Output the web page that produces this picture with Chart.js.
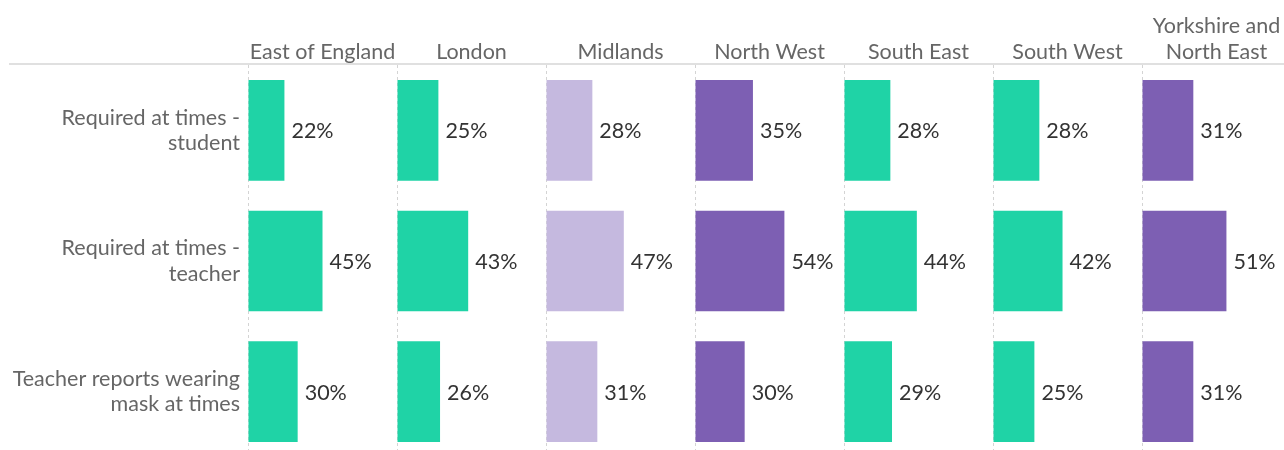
<!DOCTYPE html>
<html>
<head>
<meta charset="utf-8">
<script src="https://cdn.jsdelivr.net/npm/chart.js@4.4.1/dist/chart.umd.min.js"></script>
<style>
  html, body { margin: 0; padding: 0; background: #fff; overflow: hidden; }
  #wrap { width: 1291px; height: 457px; }
</style>
</head>
<body>
<div id="wrap"><canvas id="maskChart"></canvas></div>
<script>
// rows (y categories)
const categories = [
    ['Required at times -', 'student'],
    ['Required at times -', 'teacher'],
    ['Teacher reports wearing', 'mask at times']
];
// panel titles, first line empty so single-line titles sit at the bottom
const regions = [
    ['', 'East of England'],
    ['', 'London'],
    ['', 'Midlands'],
    ['', 'North West'],
    ['', 'South East'],
    ['', 'South West'],
    ['Yorkshire and', 'North East']
];
const eastOfEngland = [22, 45, 30];
const london = [25, 43, 26];
const midlands = [28, 47, 31];
const northWest = [35, 54, 30];
const southEast = [28, 44, 29];
const southWest = [28, 42, 25];
const yorkshireNorthEast = [31, 51, 31];
const regionValues = [eastOfEngland, london, midlands, northWest, southEast, southWest, yorkshireNorthEast];
const regionColours = ['#1fd3a6', '#1fd3a6', '#c5b9df', '#7d5fb3', '#1fd3a6', '#1fd3a6', '#7d5fb3'];

const FONT = 'Lato';
const FONT_SIZE = 21.5;

const datasets = regionValues.map((values, i) => ({
    label: regions[i].join(' ').trim(),
    data: values,
    xAxisID: 'x' + i,
    yAxisID: 'y',
    backgroundColor: regionColours[i],
    grouped: false,
    barPercentage: 0.77,
    categoryPercentage: 1
}));

const scales = {
    y: {
        type: 'category',
        position: 'left',
        grid: { display: false, drawTicks: false },
        border: { display: false },
        ticks: {
            color: '#666',
            padding: 8,
            font: { family: FONT, size: FONT_SIZE, lineHeight: 1.17 }
        },
        afterFit: scale => {
            scale.width = 248;
            // don't let the wrapped labels reserve space above/below the panels
            scale.paddingTop = 0;
            scale.paddingBottom = 0;
        }
    }
};
regions.forEach((title, i) => {
    scales['x' + i] = {
        type: 'linear',
        position: 'top',
        stack: 'regions',
        weight: 10 - i, // top boxes are placed in reverse weight order
        min: 0,
        max: 90,
        ticks: { display: false },
        grid: {
            drawTicks: false,
            lineWidth: 1,
            color: ctx => (ctx.tick && ctx.tick.value === 0) ? '#d4d4d4' : 'rgba(0,0,0,0)'
        },
        border: { display: false, dash: [3, 3] },
        title: {
            display: true,
            text: title,
            color: '#666',
            font: { family: FONT, size: FONT_SIZE, lineHeight: 1.21 },
            padding: { top: 13, bottom: 0 }
        },
        afterFit: scale => { scale.height = 65; }
    };
});

// header rule across the top of the panels
const headerLine = {
    id: 'headerLine',
    beforeDraw(chart) {
        const { ctx, chartArea } = chart;
        ctx.save();
        ctx.strokeStyle = '#d6d6d6';
        ctx.lineWidth = 1.5;
        ctx.beginPath();
        ctx.moveTo(9, chartArea.top - 1);
        ctx.lineTo(chart.width, chartArea.top - 1);
        ctx.stroke();
        ctx.restore();
    }
};

// percentage labels to the right of each bar
const valueLabels = {
    id: 'valueLabels',
    afterDatasetsDraw(chart) {
        const { ctx } = chart;
        ctx.save();
        ctx.fillStyle = '#333';
        ctx.font = FONT_SIZE + 'px ' + FONT;
        ctx.textAlign = 'left';
        ctx.textBaseline = 'middle';
        chart.data.datasets.forEach((ds, i) => {
            chart.getDatasetMeta(i).data.forEach((bar, j) => {
                ctx.fillText(ds.data[j] + '%', bar.x + 7, bar.y + 1);
            });
        });
        ctx.restore();
    }
};

new Chart(document.getElementById('maskChart'), {
    type: 'bar',
    data: { labels: categories, datasets: datasets },
    options: {
        indexAxis: 'y',
        responsive: true,
        maintainAspectRatio: false,
        animation: false,
        layout: { padding: 0 },
        plugins: {
            legend: { display: false },
            tooltip: { enabled: false }
        },
        scales: scales
    },
    plugins: [headerLine, valueLabels]
});
</script>
</body>
</html>
